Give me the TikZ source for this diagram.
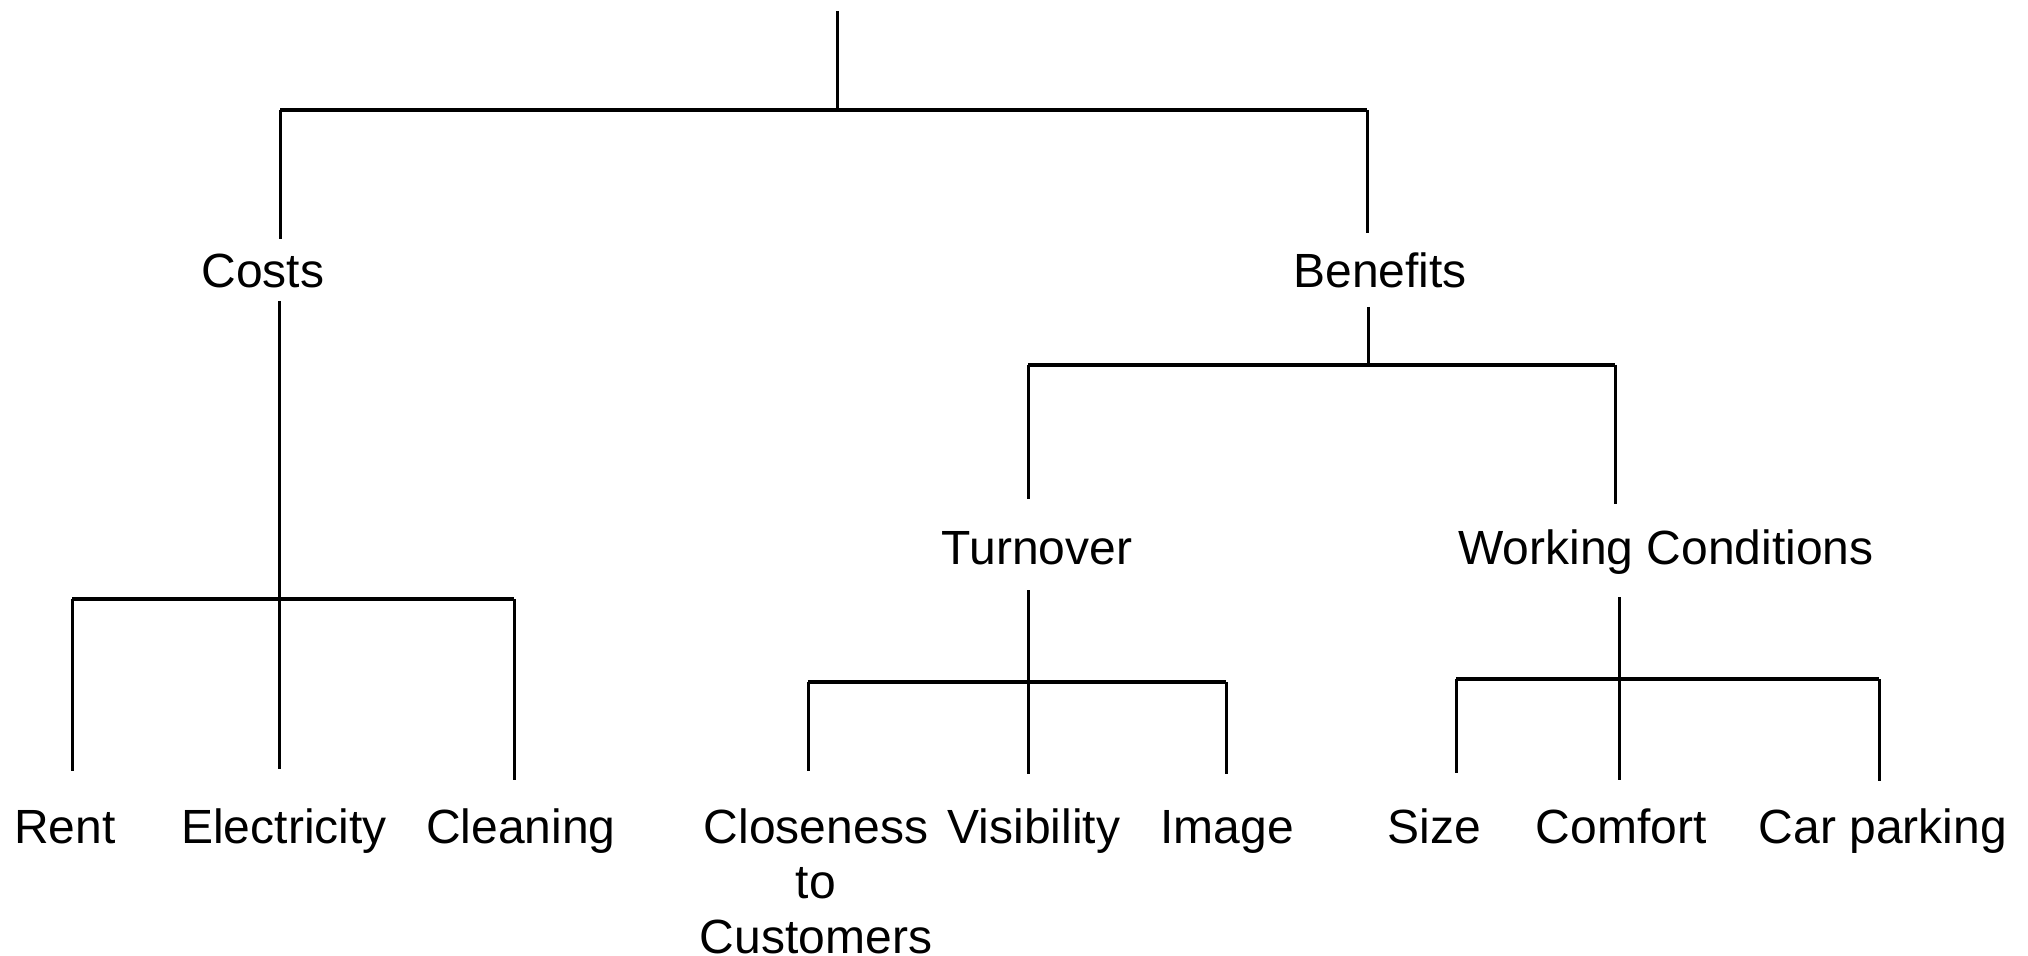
\documentclass[tikz,border=0pt]{standalone}
\usepackage{fontspec}
\setmainfont{Liberation Sans}
\begin{document}
\begin{tikzpicture}[x=0.5pt,y=-0.5pt,
  lbl/.style={anchor=base,inner sep=0pt,font=\fontsize{24pt}{27.5pt}\selectfont},
  conn/.style={line width=1.5pt},
  bar/.style={line width=1.9pt}]
\useasboundingbox (0,0) rectangle (2028,956);
% text nodes
\node[lbl] (costs) at (263,288) {Costs};
\node[lbl] (benefits) at (1380,288) {Benefits};
\node[lbl] (turnover) at (1037,565) {Turnover};
\node[lbl] (working) at (1666,565) {Working Conditions};
\node[lbl] (rent) at (65,843) {Rent};
\node[lbl] (electricity) at (284,843) {Electricity};
\node[lbl] (cleaning) at (521,843) {Cleaning};
\node[lbl,align=center] (closeness) at (816,953) {Closeness\\to\\Customers};
\node[lbl] (visibility) at (1034,843) {Visibility};
\node[lbl] (image) at (1227,843) {Image};
\node[lbl] (size) at (1434,843) {Size};
\node[lbl] (comfort) at (1621,843) {Comfort};
\node[lbl] (carparking) at (1883,843) {Car parking};
% coordinates
\coordinate (rootTop) at (837,11);
\coordinate (rootJ) at (837,110);
\coordinate (costsJ) at (280,110);
\coordinate (benefitsJ) at (1367,110);
\coordinate (costsIn) at (280,239);
\coordinate (benefitsIn) at (1367,233);
\coordinate (costsOut) at (279,301);
\coordinate (costsBarL) at (72,599);
\coordinate (costsBarR) at (514,599);
\coordinate (rentIn) at (72,771);
\coordinate (electricityIn) at (279,769);
\coordinate (cleaningIn) at (514,780);
\coordinate (benefitsOut) at (1368,307);
\coordinate (benefitsBarL) at (1028,365);
\coordinate (benefitsBarR) at (1615,365);
\coordinate (turnoverIn) at (1028,499);
\coordinate (workingIn) at (1615,504);
\coordinate (turnoverOut) at (1028,590);
\coordinate (turnoverBarL) at (808,682);
\coordinate (turnoverBarR) at (1226,682);
\coordinate (closenessIn) at (808,771);
\coordinate (visibilityIn) at (1028,774);
\coordinate (imageIn) at (1226,774);
\coordinate (workingOut) at (1619,597);
\coordinate (workingBarL) at (1456,679);
\coordinate (workingBarR) at (1879,679);
\coordinate (sizeIn) at (1456,773);
\coordinate (comfortIn) at (1619,780);
\coordinate (carparkingIn) at (1879,781);
% connectors
\draw[conn] (rootTop) -- (rootJ);
\draw[bar] (costsJ) -- (benefitsJ);
\draw[conn] (costsJ) -- (costsIn);
\draw[conn] (benefitsJ) -- (benefitsIn);
\draw[conn] (costsOut) -- (electricityIn);
\draw[bar] (costsBarL) -- (costsBarR);
\draw[conn] (costsBarL) -- (rentIn);
\draw[conn] (costsBarR) -- (cleaningIn);
\draw[conn] (benefitsOut) -- (benefitsOut |- benefitsBarL);
\draw[bar] (benefitsBarL) -- (benefitsBarR);
\draw[conn] (benefitsBarL) -- (turnoverIn);
\draw[conn] (benefitsBarR) -- (workingIn);
\draw[conn] (turnoverOut) -- (visibilityIn);
\draw[bar] (turnoverBarL) -- (turnoverBarR);
\draw[conn] (turnoverBarL) -- (closenessIn);
\draw[conn] (turnoverBarR) -- (imageIn);
\draw[conn] (workingOut) -- (comfortIn);
\draw[bar] (workingBarL) -- (workingBarR);
\draw[conn] (workingBarL) -- (sizeIn);
\draw[conn] (workingBarR) -- (carparkingIn);
\end{tikzpicture}
\end{document}
